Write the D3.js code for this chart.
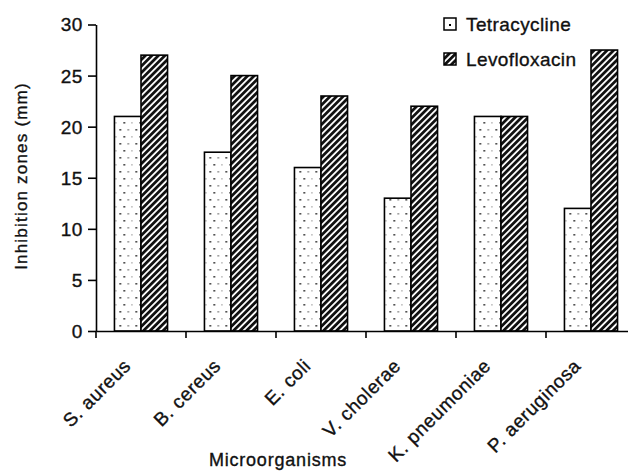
<!DOCTYPE html>
<html><head><meta charset="utf-8">
<script src="https://cdn.jsdelivr.net/npm/d3@7"></script>
<style>
html,body{margin:0;padding:0;background:#fff;}
text{font-family:"Liberation Sans",Arial,sans-serif;fill:#111;stroke:#111;stroke-width:0.35px;}
</style></head>
<body><svg id="c" width="628" height="472"></svg>
<script>
const categories = ["S. aureus","B. cereus","E. coli","V. cholerae","K. pneumoniae","P. aeruginosa"];
const seriesNames = ["Tetracycline","Levofloxacin"];
const tetracycline = [21, 17.5, 16, 13, 21, 12];
const levofloxacin = [27, 25, 23, 22, 21, 27.5];
const yTicks = [0,5,10,15,20,25,30];

const svg = d3.select("#c");
const defs = svg.append("defs");

// dotted pattern
const pd = defs.append("pattern").attr("id","dots").attr("patternUnits","userSpaceOnUse")
  .attr("width",16).attr("height",14).attr("x",114).attr("y",0);
pd.append("rect").attr("width",16).attr("height",14).attr("fill","#fff");
[[3,3,"#222"],[11,3,"#888"],[7,10,"#222"],[15,10,"#999"]].forEach(([x,y,c])=>{
  pd.append("rect").attr("x",x).attr("y",y).attr("width",1.6).attr("height",1.6).attr("fill",c);
});
// hatch pattern
const ph = defs.append("pattern").attr("id","hatch").attr("patternUnits","userSpaceOnUse")
  .attr("width",4.6).attr("height",4.6).attr("patternTransform","rotate(45)");
ph.append("rect").attr("width",4.6).attr("height",4.6).attr("fill","#fff");
ph.append("rect").attr("width",2.8).attr("height",4.6).attr("fill","#111");

const fills = ["url(#dots)","url(#hatch)"];

const x0 = d3.scaleBand().domain(categories).range([96,636]).paddingInner(0.41).paddingOuter(0.205);
const x1 = d3.scaleBand().domain(seriesNames).range([0,x0.bandwidth()]);
const y = d3.scaleLinear().domain([0,30]).range([331,24.5]);

const data = categories.map((c,i)=>({cat:c, vals:[tetracycline[i], levofloxacin[i]]}));

const g = svg.append("g");
g.selectAll("g.grp").data(data).join("g").attr("class","grp")
  .attr("transform",d=>`translate(${x0(d.cat)},0)`)
  .selectAll("rect").data(d=>d.vals.map((v,j)=>({s:seriesNames[j],v,j})))
  .join("rect")
  .attr("x",d=>x1(d.s)).attr("y",d=>y(d.v))
  .attr("width",x1.bandwidth()).attr("height",d=>y(0)-y(d.v))
  .attr("fill",d=>fills[d.j]).attr("stroke","#000").attr("stroke-width",1.6);

// Y axis
const ya = svg.append("g").attr("transform","translate(96,0)")
  .call(d3.axisLeft(y).tickValues(yTicks).tickSize(8).tickPadding(5).tickSizeOuter(0));
ya.select(".domain").attr("stroke","#000").attr("stroke-width",1.6);
ya.selectAll(".tick line").attr("stroke","#000").attr("stroke-width",1.6);
ya.selectAll(".tick text").attr("font-size",19).attr("letter-spacing","0.6px").attr("fill","#111")
  .attr("font-family","Liberation Sans, Arial, sans-serif").attr("dy","0.34em");

// X axis
const xa = svg.append("g").attr("transform",`translate(0,${y(0)})`)
  .call(d3.axisBottom(x0).tickSize(0).tickSizeOuter(0));
xa.select(".domain").attr("stroke","#000").attr("stroke-width",1.6);
xa.selectAll(".tick text").remove();
// boundary ticks
const bounds = categories.map(c=>x0(c)-x0.step()*x0.paddingOuter());
xa.selectAll("line.bt").data(bounds).join("line").attr("class","bt")
  .attr("x1",d=>d).attr("x2",d=>d).attr("y1",0).attr("y2",7)
  .attr("stroke","#000").attr("stroke-width",1.6);
// rotated labels
svg.append("g").selectAll("text").data(categories).join("text")
  .attr("transform",d=>`translate(${x0(d)+x0.bandwidth()/2-9},367) rotate(-45)`)
  .attr("text-anchor","end").attr("font-size",19).attr("letter-spacing","0.6px")
  .text(d=>d);

// axis titles
svg.append("text").attr("x",278).attr("y",466).attr("text-anchor","middle")
  .attr("font-size",18).attr("letter-spacing","0.8px").text("Microorganisms");
svg.append("text").attr("transform","translate(27,176) rotate(-90)").attr("text-anchor","middle")
  .attr("font-size",17).attr("letter-spacing","1.2px").text("Inhibition zones (mm)");

// legend
const lg = svg.append("g");
const ly = [18, 53];
seriesNames.forEach((s,i)=>{
  lg.append("rect").attr("x",444).attr("y",ly[i]).attr("width",12).attr("height",12)
    .attr("fill",i===0?"#fff":"url(#hatch)").attr("stroke","#000").attr("stroke-width",1.5);
  if(i===0) lg.append("rect").attr("x",449).attr("y",24).attr("width",2).attr("height",2).attr("fill","#000");
  lg.append("text").attr("x",466).attr("y",ly[i]+13).attr("font-size",19)
    .attr("letter-spacing","0.4px").text(s);
});
</script></body></html>
